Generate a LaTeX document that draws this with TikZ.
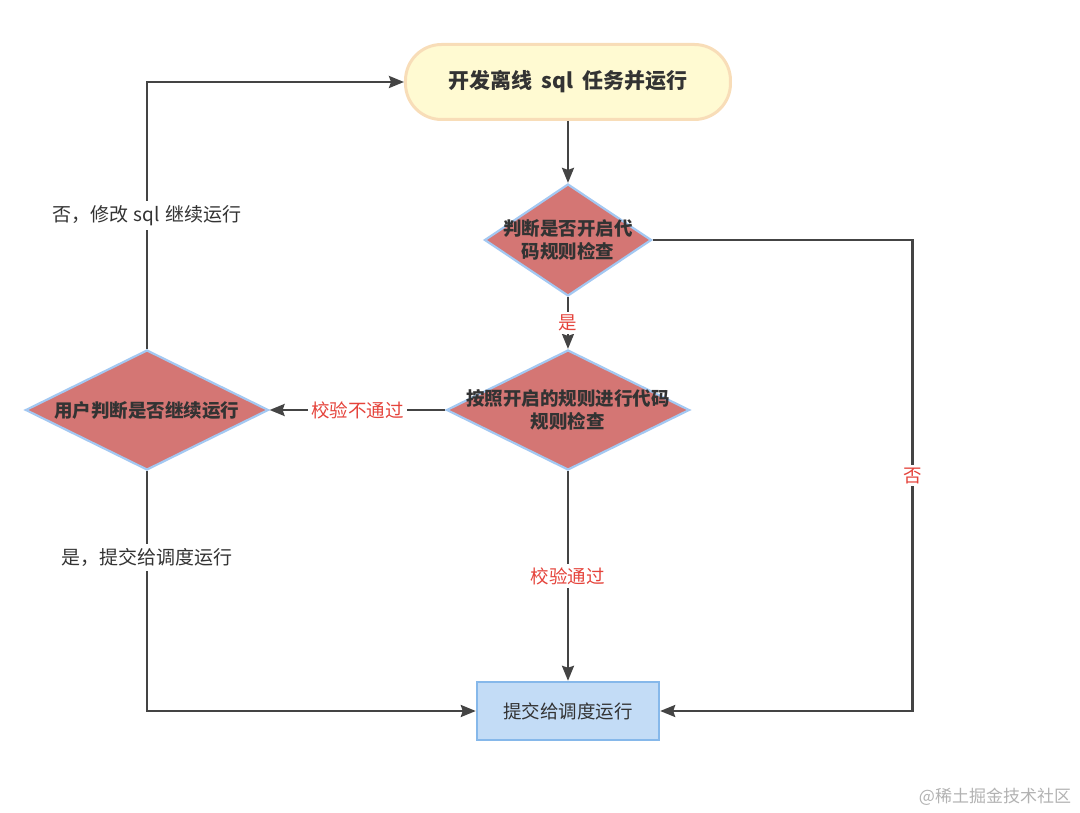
\documentclass[tikz,border=0pt]{standalone}
\usepackage{fontspec}
\setmainfont{Noto Sans CJK SC}
\usetikzlibrary{shapes.geometric, positioning, arrows.meta}
\definecolor{startfill}{HTML}{FFFAD2}
\definecolor{startline}{HTML}{F8DDB8}
\definecolor{diafill}{HTML}{D47674}
\definecolor{dialine}{HTML}{A3C8F2}
\definecolor{boxfill}{HTML}{C3DCF6}
\definecolor{boxline}{HTML}{86B8EA}
\definecolor{edgegray}{HTML}{444444}
\definecolor{textgray}{HTML}{333333}
\definecolor{labred}{HTML}{E5433B}
\tikzset{
every path/.style={line width=2.4pt, edgegray}, % all connectors
>={Stealth[length=15pt, width=12pt, inset=2pt]}, % arrow heads
startbox/.style={rectangle, rounded corners=36pt, draw=startline, line width=3pt, fill=startfill, minimum width=325pt, minimum height=75pt, font=\fontsize{21}{25}\selectfont\bfseries, text=textgray}, % first task
decision/.style={diamond, draw=dialine, line width=2.2pt, fill=diafill, inner sep=0pt, minimum width=167pt, minimum height=112pt}, % a check
wide/.style={minimum width=243pt, minimum height=120pt}, % a wider check
diatext/.style={align=center, font=\fontsize{18.5}{22.5}\selectfont\bfseries, text=textgray}, % text in a check
process/.style={rectangle, draw=boxline, fill=boxfill, minimum width=182pt, minimum height=58pt, font=\fontsize{18.5}{22}\selectfont, text=textgray}, % last task
redlab/.style={fill=white, inner sep=3pt, text=labred, font=\fontsize{18.5}{22}\selectfont}, % labels of the checks
greylab/.style={fill=white, inner sep=4pt, text=textgray, font=\fontsize{19}{22}\selectfont}, % labels of the user's choice
}
\begin{document}
\begin{tikzpicture}
    \useasboundingbox (-568pt,82pt) rectangle (512pt,-731pt);
    \node[startbox] (dev) {开发离线\hspace{0.45em}sql\hspace{0.45em}任务并运行};
    \node[decision, below of=dev, node distance=158pt, label={[diatext]center:判断是否开启代\\码规则检查}] (chk) {};
    \node[decision, wide, below of=chk, node distance=170pt, label={[diatext]center:按照开启的规则进行代码\\规则检查}] (rule) {};
    \node[decision, wide, left of=rule, node distance=421pt, label={[diatext]center:用户判断是否继续运行}] (usr) {};
    \node[process, below of=rule, node distance=301pt] (sub) {提交给调度运行};
    \coordinate[right=260pt of chk.east] (rc);
    \node[text=black!30, font=\fontsize{17}{20}\selectfont] (wm) at (427pt,-715pt) {@稀土掘金技术社区};
    \draw[->] (dev) -- (chk);
    \draw[->] (chk) -- node[redlab]{是} (rule);
    \draw[->] (rule) -- node[redlab]{校验不通过} (usr);
    \draw[->] (rule) -- node[redlab]{校验通过} (sub);
    \draw[->] (chk.east) -- (rc) |- node[pos=0.25, redlab]{否} (sub.east);
    \draw[->] (usr.north) |- node[pos=0.25, greylab]{否，修改\hspace{0.3em}sql\hspace{0.3em}继续运行} (dev.west);
    \draw[->] (usr.south) |- node[pos=0.18, greylab]{是，提交给调度运行} (sub.west);
  \end{tikzpicture}
\end{document}
